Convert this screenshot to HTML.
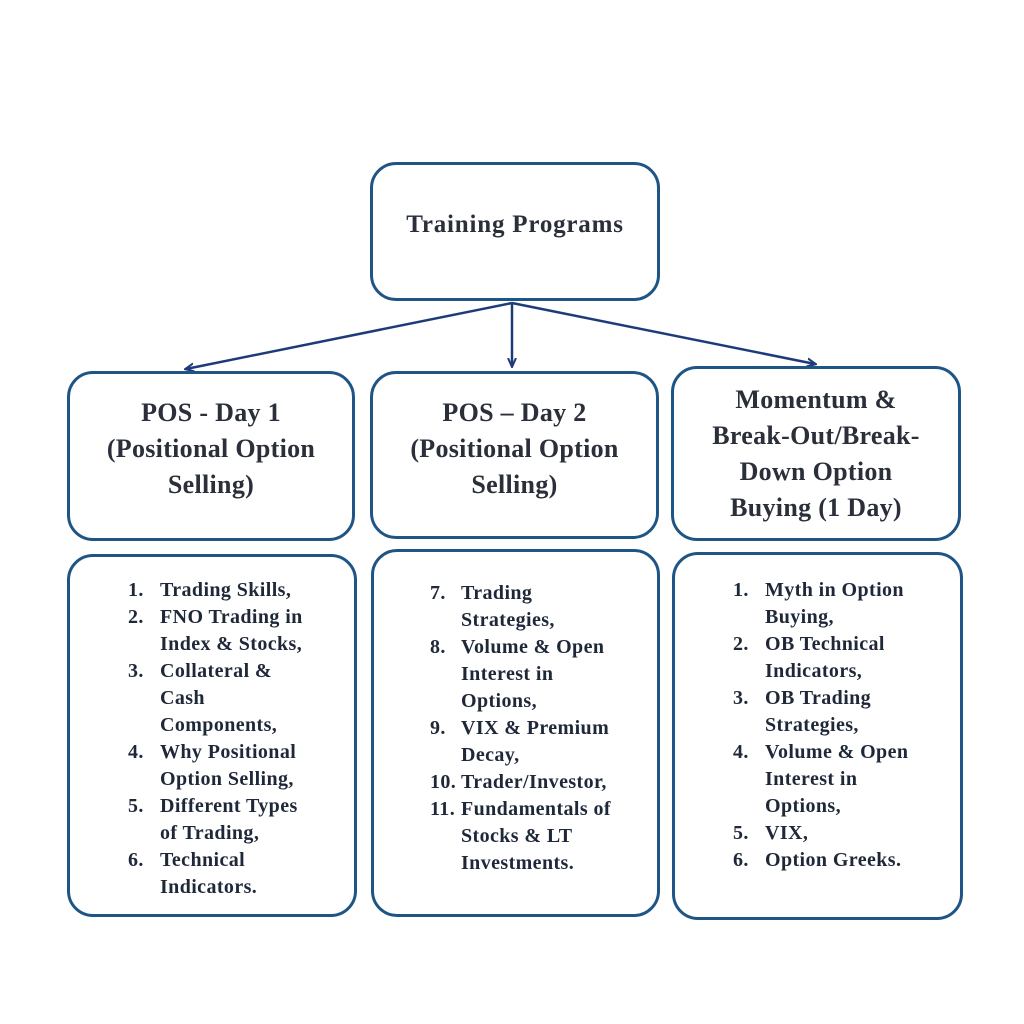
<!DOCTYPE html>
<html><head><meta charset="utf-8"><style>
body{margin:0;width:1024px;height:1024px;background:#fff;position:relative;overflow:hidden;font-family:"Liberation Serif",serif;color:#222a36}
.b{position:absolute;border:3px solid #1f5585;border-radius:26px;box-sizing:border-box}
.h{position:absolute;text-align:center;font-size:26px;line-height:36px;white-space:nowrap;font-weight:bold;color:#2a2f3a;letter-spacing:0.3px}
.l{position:absolute;font-size:20px;font-weight:bold;white-space:nowrap;line-height:27px;color:#1e2838;letter-spacing:0.4px}
</style></head><body>
<svg width="1024" height="1024" style="position:absolute;left:0;top:0">
<defs><marker id="a" markerWidth="10" markerHeight="10" refX="8" refY="5" orient="auto" markerUnits="userSpaceOnUse"><path d="M0,1 L9,5 L0,9" fill="none" stroke="#1f3a7a" stroke-width="2"/></marker></defs>
<g stroke="#1f3a7a" stroke-width="2.5" fill="none">
<line x1="512" y1="303" x2="186" y2="369" marker-end="url(#a)"/>
<line x1="512" y1="303" x2="512" y2="366" marker-end="url(#a)"/>
<line x1="512" y1="303" x2="815" y2="364" marker-end="url(#a)"/>
</g></svg>
<div class="b" style="left:370px;top:162px;width:290px;height:139px"></div>
<div class="h" style="left:370px;width:290px;top:207px;font-size:25px;letter-spacing:0.8px">Training Programs</div>

<div class="b" style="left:67px;top:371px;width:288px;height:170px"></div>
<div class="h" style="left:67px;width:288px;top:395px">POS - Day 1<br>(Positional Option<br>Selling)</div>
<div class="b" style="left:370px;top:371px;width:289px;height:168px"></div>
<div class="h" style="left:370px;width:289px;top:395px">POS – Day 2<br>(Positional Option<br>Selling)</div>
<div class="b" style="left:671px;top:366px;width:290px;height:175px"></div>
<div class="h" style="left:671px;width:290px;top:382px">Momentum &amp;<br>Break-Out/Break-<br>Down Option<br>Buying (1 Day)</div>

<div class="b" style="left:67px;top:554px;width:290px;height:363px"></div>
<div class="b" style="left:371px;top:549px;width:289px;height:368px"></div>
<div class="b" style="left:672px;top:552px;width:291px;height:368px"></div>

<div class="l" style="left:128px;top:577px">1.<br>2.<br><br>3.<br><br><br>4.<br><br>5.<br><br>6.</div>
<div class="l" style="left:160px;top:577px">Trading Skills,<br>FNO Trading in<br>Index &amp; Stocks,<br>Collateral &amp;<br>Cash<br>Components,<br>Why Positional<br>Option Selling,<br>Different Types<br>of Trading,<br>Technical<br>Indicators.</div>

<div class="l" style="left:430px;top:580px">7.<br><br>8.<br><br><br>9.<br><br>10.<br>11.</div>
<div class="l" style="left:461px;top:580px">Trading<br>Strategies,<br>Volume &amp; Open<br>Interest in<br>Options,<br>VIX &amp; Premium<br>Decay,<br>Trader/Investor,<br>Fundamentals of<br>Stocks &amp; LT<br>Investments.</div>

<div class="l" style="left:733px;top:577px">1.<br><br>2.<br><br>3.<br><br>4.<br><br><br>5.<br>6.</div>
<div class="l" style="left:765px;top:577px">Myth in Option<br>Buying,<br>OB Technical<br>Indicators,<br>OB Trading<br>Strategies,<br>Volume &amp; Open<br>Interest in<br>Options,<br>VIX,<br>Option Greeks.</div>
</body></html>
